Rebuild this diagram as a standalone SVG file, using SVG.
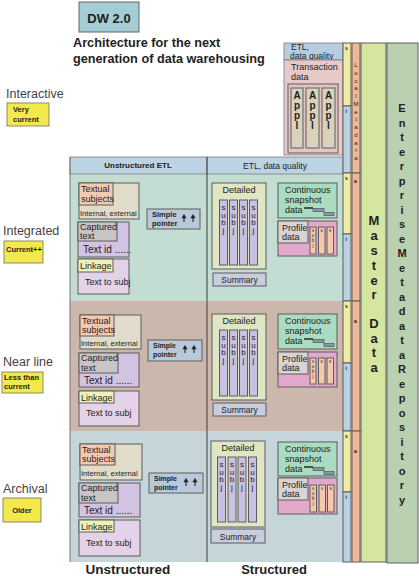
<svg xmlns="http://www.w3.org/2000/svg" xmlns:xlink="http://www.w3.org/1999/xlink" width="419" height="576" viewBox="0 0 419 576">
<style>
text{font-family:"Liberation Sans",Arial,sans-serif;fill:#222}
.bx{stroke:#5c5c5c;stroke-width:1}
.thin{stroke:#7a7a7a;stroke-width:0.8}
.yel{fill:#f3e94c;stroke:#8a8a70;stroke-width:1}
.ylt{font-size:7.5px;font-weight:bold}
.side{font-size:12.5px;fill:#444}
.ts-o{fill:#e0dcc9}.ts-l{fill:#f4c9b2}
.ca-o{fill:#d3c3e2}.ca-l{fill:#c9c5c6}
.li-o{fill:#e4d2e8}.li-l{fill:#eff1bb}
.sp{fill:#b9c9d9}
.det{fill:#dfe6c3}.subj{fill:#c9c1e1}
.sum{fill:#c8cedd}
.cont{fill:#a9dcc1}
.pro{fill:#e3a9cc}.pro-l{fill:#d9d3d3}.pcol{fill:#f4caa9}
.c1y{fill:#efeba2}.c1b{fill:#b9d1e2}.c2{fill:#efb998}
.t9{font-size:9px}.t7{font-size:7.5px}.t10{font-size:10px}
.bold{font-weight:bold}
.ls{font-size:8px;font-weight:bold;text-anchor:middle}
.mk{font-size:5px;font-weight:bold;fill:#111}
</style>
<defs>
<g id="arr"><line x1="0" y1="3" x2="0" y2="8" stroke="#222" stroke-width="1.1"/><path d="M-2.6 4.2 L0 0 L2.6 4.2 Z" fill="#222"/></g>
<g id="snap"><line x1="0" y1="0" x2="9" y2="0" stroke="#333" stroke-width="1.6"/><rect x="9" y="0.5" width="11" height="3" fill="#8797b0" stroke="#444" stroke-width="0.6"/><rect x="20" y="4.5" width="10" height="3" fill="#8797b0" stroke="#444" stroke-width="0.6"/></g>
</defs>

<!-- title -->
<g id="dw-title">
<rect x="79" y="2" width="60" height="30" fill="#a5cdd6" stroke="#666" stroke-width="1"/>
<text x="109" y="23" font-size="13" font-weight="bold" text-anchor="middle">DW 2.0</text>
<text x="73" y="47" font-size="12.7" font-weight="bold">Architecture for the next</text>
<text x="73" y="63" font-size="12.7" font-weight="bold">generation of data warehousing</text>
</g>

<!-- side labels -->
<g id="lbl-interactive">
<text class="side" x="6" y="98">Interactive</text>
<rect class="yel" x="7" y="103" width="42" height="23"/>
<text class="ylt" x="13" y="112">Very</text>
<text class="ylt" x="13" y="122">current</text>
</g>
<g id="lbl-integrated">
<text class="side" x="3" y="235">Integrated</text>
<rect class="yel" x="4" y="241" width="39" height="22"/>
<text class="ylt" x="6" y="252">Current++</text>
</g>
<g id="lbl-nearline">
<text class="side" x="3" y="366">Near line</text>
<rect class="yel" x="2" y="372" width="41" height="21"/>
<text class="ylt" x="4" y="380">Less than</text>
<text class="ylt" x="4" y="389">current</text>
</g>
<g id="lbl-archival">
<text class="side" x="3" y="493">Archival</text>
<rect class="yel" x="3" y="498" width="38" height="24"/>
<text class="ylt" x="22" y="513" text-anchor="middle">Older</text>
</g>

<!-- transaction area -->
<g id="transaction">
<rect class="thin" x="284" y="43" width="59" height="17" fill="#b9cde1"/>
<text x="291" y="50" font-size="8.5">ETL,</text>
<text x="290" y="58.5" font-size="8.5">data quality</text>
<rect class="thin" x="284" y="60" width="59" height="95" fill="#e9c9c8"/>
<text class="t9" x="291" y="70">Transaction</text>
<text class="t9" x="291" y="80">data</text>
<rect class="bx" x="288" y="84" width="50" height="69" fill="#e3c6c2"/>
<g class="bx" fill="#d9d3bd">
<rect x="291" y="88" width="12" height="60"/>
<rect x="306" y="88" width="13" height="60"/>
<rect x="322" y="88" width="13" height="60"/>
</g>
<g font-size="10" font-weight="bold" text-anchor="middle">
<text x="297" y="99">A</text><text x="297" y="109">p</text><text x="297" y="119">p</text><text x="297" y="129">l</text>
<text x="312.5" y="99">A</text><text x="312.5" y="109">p</text><text x="312.5" y="119">p</text><text x="312.5" y="129">l</text>
<text x="328.5" y="99">A</text><text x="328.5" y="109">p</text><text x="328.5" y="119">p</text><text x="328.5" y="129">l</text>
</g>
</g>

<!-- main panel backgrounds -->
<g id="panel">
<rect x="70" y="174" width="273" height="127" fill="#c4ddd3"/>
<rect x="70" y="301" width="273" height="130" fill="#ccb7ad"/>
<rect x="70" y="431" width="273" height="131" fill="#c6d5da"/>
<rect x="70" y="157" width="137" height="17" fill="#bcd3e3" class="thin"/>
<rect x="207" y="157" width="136" height="17" fill="#bcd3e3" class="thin"/>
<text class="ls" x="138" y="168">Unstructured ETL</text>
<text x="275" y="168.5" font-size="8.5" text-anchor="middle">ETL, data quality</text>
<line x1="70" y1="157" x2="70" y2="562" stroke="#777" stroke-width="1"/>
<line x1="207" y1="157" x2="207" y2="562" stroke="#555" stroke-width="1.2"/>
</g>

<!-- Integrated unstructured -->
<g id="int-unstructured">
<rect class="bx ts-o" x="79" y="183" width="60" height="36"/>
<rect class="bx ts-l" x="79" y="183" width="34" height="22"/>
<text class="t9" x="81" y="192">Textual</text>
<text class="t9" x="81" y="201.5">subjects</text>
<text x="80" y="215.5" font-size="7.6">Internal, external</text>
<rect class="bx ca-o" x="78" y="222" width="51" height="35"/>
<rect class="bx ca-l" x="78" y="222" width="39" height="19"/>
<text class="t9" x="80" y="230">Captured</text>
<text class="t9" x="80" y="239">text</text>
<text class="t10" x="83" y="253">Text id ......</text>
<rect class="bx li-o" x="78" y="259" width="51" height="35"/>
<rect class="bx li-l" x="78" y="259" width="35" height="13"/>
<text class="t9" x="80" y="269">Linkage</text>
<text class="t9" x="85" y="285">Text to subj</text>
<rect class="bx sp" x="147" y="209" width="53" height="20"/>
<text class="t7 bold" x="152" y="217" font-size="7">Simple</text>
<text class="t7 bold" x="152" y="226" font-size="7">pointer</text>
<use xlink:href="#arr" x="184" y="214"/><use xlink:href="#arr" x="193" y="214"/>
</g>

<!-- Integrated structured -->
<g id="int-structured">
<rect class="bx det" x="212" y="183" width="54" height="86"/>
<text class="t9" x="239" y="193" text-anchor="middle">Detailed</text>
<g class="bx subj">
<rect x="219.5" y="200" width="8" height="65"/><rect x="229.5" y="200" width="8" height="65"/><rect x="239.5" y="200" width="8" height="65"/><rect x="249.5" y="200" width="8" height="65"/>
</g>
<g font-size="8" text-anchor="middle">
<text x="223.5" y="210">s</text><text x="223.5" y="217.5">u</text><text x="223.5" y="225">b</text><text x="223.5" y="232.5">j</text>
<text x="233.5" y="210">s</text><text x="233.5" y="217.5">u</text><text x="233.5" y="225">b</text><text x="233.5" y="232.5">j</text>
<text x="243.5" y="210">s</text><text x="243.5" y="217.5">u</text><text x="243.5" y="225">b</text><text x="243.5" y="232.5">j</text>
<text x="253.5" y="210">s</text><text x="253.5" y="217.5">u</text><text x="253.5" y="225">b</text><text x="253.5" y="232.5">j</text>
</g>
<rect class="bx sum" x="213" y="273" width="53" height="13"/>
<text x="239.5" y="283" font-size="8.5" text-anchor="middle">Summary</text>
<rect class="bx cont" x="278" y="183" width="59" height="35"/>
<text class="t9" x="285" y="193">Continuous</text>
<text class="t9" x="285" y="203">snapshot</text>
<text class="t9" x="285" y="212.5">data</text>
<use xlink:href="#snap" x="304" y="208"/>
<rect class="bx pro" x="278" y="221" width="59" height="35"/>
<rect class="bx pro-l" x="278" y="221" width="30" height="22"/>
<text class="t9" x="282" y="231">Profile</text>
<text class="t9" x="282" y="240">data</text>
<g class="bx pcol"><rect x="310" y="227" width="6" height="27"/><rect x="318.5" y="227" width="6.5" height="27"/><rect x="327" y="227" width="6.5" height="27"/></g>
<g font-size="4.5" text-anchor="middle"><text x="313" y="232">s</text><text x="313" y="237">u</text><text x="313" y="242">b</text><text x="313" y="247">j</text><text x="321.7" y="232">s</text><text x="330.2" y="232">s</text></g>
</g>

<!-- Near line unstructured -->
<g id="near-unstructured">
<rect class="bx ts-o" x="80" y="315" width="61" height="34"/>
<rect class="bx ts-l" x="80" y="315" width="34" height="21"/>
<text class="t9" x="82" y="324">Textual</text>
<text class="t9" x="82" y="333">subjects</text>
<text x="81" y="346" font-size="7.6">Internal, external</text>
<rect class="bx ca-o" x="79" y="353" width="60" height="34"/>
<rect class="bx ca-l" x="79" y="353" width="39" height="20"/>
<text class="t9" x="81" y="361">Captured</text>
<text class="t9" x="81" y="370.5">text</text>
<text class="t10" x="84" y="384">Text id ......</text>
<rect class="bx li-o" x="79" y="391" width="60" height="35"/>
<rect class="bx li-l" x="79" y="391" width="35" height="12"/>
<text class="t9" x="81" y="400.5">Linkage</text>
<text class="t9" x="86" y="416">Text to subj</text>
<rect class="bx sp" x="148" y="340" width="54" height="21"/>
<text class="bold" x="153" y="348" font-size="7">Simple</text>
<text class="bold" x="153" y="357" font-size="7">pointer</text>
<use xlink:href="#arr" x="185" y="345"/><use xlink:href="#arr" x="194" y="345"/>
</g>

<!-- Near line structured -->
<g id="near-structured">
<rect class="bx det" x="212" y="314" width="54" height="86"/>
<text class="t9" x="239" y="324" text-anchor="middle">Detailed</text>
<g class="bx subj">
<rect x="219.5" y="330" width="8" height="66"/><rect x="229.5" y="330" width="8" height="66"/><rect x="239.5" y="330" width="8" height="66"/><rect x="249.5" y="330" width="8" height="66"/>
</g>
<g font-size="8" text-anchor="middle">
<text x="223.5" y="340">s</text><text x="223.5" y="347.5">u</text><text x="223.5" y="355">b</text><text x="223.5" y="362.5">j</text>
<text x="233.5" y="340">s</text><text x="233.5" y="347.5">u</text><text x="233.5" y="355">b</text><text x="233.5" y="362.5">j</text>
<text x="243.5" y="340">s</text><text x="243.5" y="347.5">u</text><text x="243.5" y="355">b</text><text x="243.5" y="362.5">j</text>
<text x="253.5" y="340">s</text><text x="253.5" y="347.5">u</text><text x="253.5" y="355">b</text><text x="253.5" y="362.5">j</text>
</g>
<rect class="bx sum" x="213" y="403" width="53" height="13"/>
<text x="239.5" y="413" font-size="8.5" text-anchor="middle">Summary</text>
<rect class="bx cont" x="278" y="314" width="59" height="35"/>
<text class="t9" x="285" y="324">Continuous</text>
<text class="t9" x="285" y="334">snapshot</text>
<text class="t9" x="285" y="343.5">data</text>
<use xlink:href="#snap" x="304" y="339"/>
<rect class="bx pro" x="278" y="352" width="59" height="35"/>
<rect class="bx pro-l" x="278" y="352" width="30" height="22"/>
<text class="t9" x="282" y="362">Profile</text>
<text class="t9" x="282" y="371">data</text>
<g class="bx pcol"><rect x="310" y="358" width="6" height="26"/><rect x="318.5" y="358" width="6.5" height="26"/><rect x="327" y="358" width="6.5" height="26"/></g>
<g font-size="4.5" text-anchor="middle"><text x="313" y="363">s</text><text x="313" y="368">u</text><text x="313" y="373">b</text><text x="313" y="378">j</text><text x="321.7" y="363">s</text><text x="330.2" y="363">s</text></g>
</g>

<!-- Archival unstructured -->
<g id="arch-unstructured">
<rect class="bx ts-o" x="80" y="444" width="62" height="36"/>
<rect class="bx ts-l" x="80" y="444" width="35" height="21"/>
<text class="t9" x="82" y="453">Textual</text>
<text class="t9" x="82" y="462">subjects</text>
<text x="81" y="476" font-size="7.6">Internal, external</text>
<rect class="bx ca-o" x="79" y="483" width="61" height="34"/>
<rect class="bx ca-l" x="79" y="483" width="39" height="20"/>
<text class="t9" x="81" y="491">Captured</text>
<text class="t9" x="81" y="500.5">text</text>
<text class="t10" x="84" y="514">Text id ......</text>
<rect class="bx li-o" x="79" y="520" width="61" height="36"/>
<rect class="bx li-l" x="79" y="520" width="35" height="12"/>
<text class="t9" x="81" y="529.5">Linkage</text>
<text class="t9" x="86" y="546">Text to subj</text>
<rect class="bx sp" x="149" y="473" width="54" height="20"/>
<text class="bold" x="154" y="481" font-size="7">Simple</text>
<text class="bold" x="154" y="490" font-size="7">pointer</text>
<use xlink:href="#arr" x="186" y="478"/><use xlink:href="#arr" x="195" y="478"/>
</g>

<!-- Archival structured -->
<g id="arch-structured">
<rect class="bx det" x="211" y="441" width="54" height="86"/>
<text class="t9" x="238" y="451" text-anchor="middle">Detailed</text>
<g class="bx subj">
<rect x="217.5" y="457" width="8" height="65"/><rect x="228" y="457" width="8" height="65"/><rect x="238" y="457" width="8" height="65"/><rect x="248.5" y="457" width="8" height="65"/>
</g>
<g font-size="8" text-anchor="middle">
<text x="221.5" y="467">s</text><text x="221.5" y="474.5">u</text><text x="221.5" y="482">b</text><text x="221.5" y="489.5">j</text>
<text x="232" y="467">s</text><text x="232" y="474.5">u</text><text x="232" y="482">b</text><text x="232" y="489.5">j</text>
<text x="242" y="467">s</text><text x="242" y="474.5">u</text><text x="242" y="482">b</text><text x="242" y="489.5">j</text>
<text x="252.5" y="467">s</text><text x="252.5" y="474.5">u</text><text x="252.5" y="482">b</text><text x="252.5" y="489.5">j</text>
</g>
<rect class="bx sum" x="211" y="529" width="54" height="14"/>
<text x="238" y="539.5" font-size="8.5" text-anchor="middle">Summary</text>
<rect class="bx cont" x="278" y="442" width="59" height="34"/>
<text class="t9" x="285" y="452">Continuous</text>
<text class="t9" x="285" y="462">snapshot</text>
<text class="t9" x="285" y="471.5">data</text>
<use xlink:href="#snap" x="304" y="467"/>
<rect class="bx pro" x="278" y="478" width="59" height="36"/>
<rect class="bx pro-l" x="278" y="478" width="30" height="22"/>
<text class="t9" x="282" y="488">Profile</text>
<text class="t9" x="282" y="497">data</text>
<g class="bx pcol"><rect x="310" y="485" width="6.5" height="27"/><rect x="319" y="485" width="6.5" height="27"/><rect x="327.5" y="485" width="6.5" height="27"/></g>
<g font-size="4.5" text-anchor="middle"><text x="313.2" y="490">s</text><text x="313.2" y="495">u</text><text x="313.2" y="500">b</text><text x="313.2" y="505">j</text><text x="322.2" y="490">s</text><text x="330.7" y="490">s</text></g>
</g>

<!-- right columns -->
<g id="col-narrow">
<rect class="bx c1y" x="343" y="43" width="8" height="63"/>
<rect class="bx c1b" x="343" y="106" width="8" height="67"/>
<rect class="bx c1y" x="343" y="173" width="8" height="61"/>
<rect class="bx c1b" x="343" y="234" width="8" height="67"/>
<rect class="bx c1y" x="343" y="301" width="8" height="62"/>
<rect class="bx c1b" x="343" y="363" width="8" height="68"/>
<rect class="bx c1y" x="343" y="431" width="8" height="61"/>
<rect class="bx c1b" x="343" y="492" width="8" height="70"/>
<text class="mk" x="345" y="50">s</text><text class="mk" x="345.5" y="113">i</text>
<text class="mk" x="345" y="180">s</text><text class="mk" x="345.5" y="241">i</text>
<text class="mk" x="345" y="308">s</text><text class="mk" x="345.5" y="370">i</text>
<text class="mk" x="345" y="438">s</text><text class="mk" x="345.5" y="499">i</text>
</g>
<g id="local-metadata">
<rect class="bx c2" x="352" y="43" width="8" height="130"/>
<rect class="bx c2" x="352" y="173" width="8" height="128"/>
<rect class="bx c2" x="352" y="301" width="8" height="130"/>
<rect class="bx c2" x="352" y="431" width="8" height="131"/>
<g font-size="6" fill="#6b3520" text-anchor="middle" style="fill:#6b3520">
<text x="356" y="67">L</text><text x="356" y="74.8">o</text><text x="356" y="82.5">c</text><text x="356" y="90.3">a</text><text x="356" y="98">l</text><text x="356" y="105.8">M</text><text x="356" y="113.5">e</text><text x="356" y="121.3">t</text><text x="356" y="129">a</text><text x="356" y="136.8">d</text><text x="356" y="144.5">a</text><text x="356" y="152.3">t</text><text x="356" y="160">a</text>
</g>
<text class="mk" x="354" y="183">a</text><text class="mk" x="354" y="323">a</text><text class="mk" x="354" y="453">a</text>
</g>
<g id="master-data">
<rect class="bx" x="361" y="43" width="25" height="519" fill="#d5e6a1"/>
<g font-size="13" font-weight="bold" text-anchor="middle">
<text x="374" y="225">M</text><text x="374" y="240">a</text><text x="374" y="255">s</text><text x="374" y="270">t</text><text x="374" y="285">e</text><text x="374" y="299">r</text>
<text x="374" y="328">D</text><text x="374" y="343">a</text><text x="374" y="357">t</text><text x="374" y="372">a</text>
</g>
</g>
<g id="enterprise-metadata">
<rect class="bx" x="387" y="43" width="31" height="520" fill="#b9d1b1"/>
<g font-size="11" font-weight="bold" text-anchor="middle" style="fill:#333">
<text x="402" y="112">E</text><text x="402" y="126.5">n</text><text x="402" y="141">t</text><text x="402" y="155.5">e</text><text x="402" y="170">r</text><text x="402" y="184.5">p</text><text x="402" y="199">r</text><text x="402" y="213.5">i</text><text x="402" y="228">s</text><text x="402" y="242.5">e</text>
<text x="402" y="257">M</text><text x="402" y="271.5">e</text><text x="402" y="286">t</text><text x="402" y="300.5">a</text><text x="402" y="315">d</text><text x="402" y="329.5">a</text><text x="402" y="344">t</text><text x="402" y="358.5">a</text>
<text x="402" y="373">R</text><text x="402" y="387.5">e</text><text x="402" y="402">p</text><text x="402" y="416.5">o</text><text x="402" y="431">s</text><text x="402" y="445.5">i</text><text x="402" y="460">t</text><text x="402" y="474.5">o</text><text x="402" y="489">r</text><text x="402" y="503.5">y</text>
</g>
</g>

<!-- bottom labels -->
<g id="bottom-labels">
<text x="128" y="574" font-size="13.5" font-weight="bold" text-anchor="middle">Unstructured</text>
<text x="274" y="574" font-size="13" font-weight="bold" text-anchor="middle">Structured</text>
</g>
</svg>
